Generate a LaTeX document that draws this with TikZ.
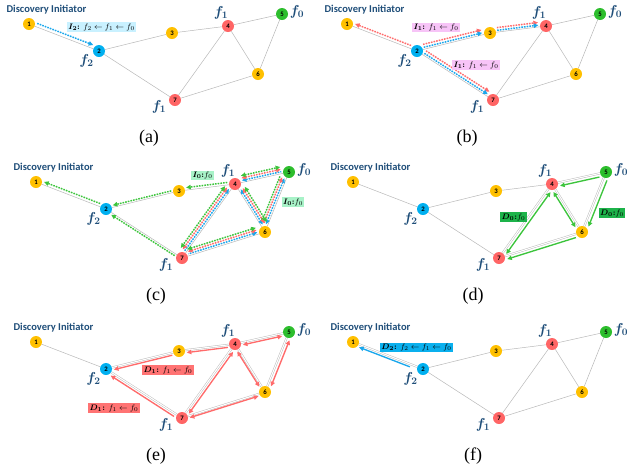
\documentclass[tikz,border=0pt]{standalone}
\usepackage{fontspec}
\usepackage{bm}
\setmainfont{Liberation Serif}
\newfontfamily\carlito{Carlito}
\usetikzlibrary{calc,arrows.meta,backgrounds}
\definecolor{cY}{HTML}{FFC000}
\definecolor{cB}{HTML}{00B0F0}
\definecolor{cR}{HTML}{FF6565}
\definecolor{cG}{HTML}{2DBE2D}
\definecolor{navy}{HTML}{1F4E79}
\definecolor{eg}{HTML}{B8B8B8}
\definecolor{gD}{HTML}{3CC43C}
\definecolor{rD}{HTML}{FF6B6B}
\definecolor{bD}{HTML}{1AA7EC}
\definecolor{boxA}{HTML}{C9F1FF}
\definecolor{boxB}{HTML}{F7C4F7}
\definecolor{boxC}{HTML}{A8F2C8}
\definecolor{boxD}{HTML}{1DB34A}
\definecolor{boxE}{HTML}{FF7373}
\definecolor{boxF}{HTML}{0AB0EE}
\tikzset{
  nd/.style={circle,minimum size=12pt,inner sep=0pt,font=\carlito\bfseries\fontsize{6.8}{6.8}\selectfont,text=black},
  di/.style={font=\carlito\bfseries\fontsize{10.5}{10.5}\selectfont,text=navy,inner sep=0pt},
  fl/.style={font=\fontsize{14}{14}\selectfont,text=navy,inner sep=0pt},
  capt/.style={font=\fontsize{18}{18}\selectfont,inner sep=0pt},
  edge/.style={draw=eg,line width=0.5pt},
  dedge/.style={draw=eg,line width=0.45pt,double=white,double distance=1.1pt},
  >={Triangle[length=4.6pt,width=4.4pt]},
  dotarr/.style={line width=1.5pt,dash pattern=on 1.5pt off 1.2pt,shorten >=7.5pt,shorten <=7.5pt},
  gdot/.style={dotarr,draw=gD,fill=gD},
  rdot/.style={dotarr,draw=rD,fill=rD},
  bdot/.style={dotarr,draw=bD,fill=bD},
  solarr/.style={line width=1.35pt,shorten >=7.5pt,shorten <=7.5pt},
  gsol/.style={solarr,draw=gD},
  rsol/.style={solarr,draw=rD},
  bsol/.style={solarr,draw=bD},
  lbox/.style={inner xsep=1.5pt,inner ysep=1pt,font=\fontsize{8.5}{8.5}\selectfont},
}
\newcommand\offarr[4]{\draw[#1] ($(#2)!#4!90:(#3)$) -- ($(#3)!#4!-90:(#2)$);}
\newcommand\graphbase[1]{%
  \node[nd,fill=cY] (n1) at (0,0) {1};
  \node[nd,fill=cB] (n2) at (70,27) {2};
  \node[nd,fill=cY] (n3) at (143,9) {3};
  \node[nd,fill=cR] (n4) at (199,2) {4};
  \node[nd,fill=cG] (n5) at (253,-10) {5};
  \node[nd,fill=cY] (n6) at (229,50) {6};
  \node[nd,fill=cR] (n7) at (146,76) {7};
  \node[di] (di) at (17.5,-14.5) {Discovery Initiator};
  \node[fl] (f4) at (192,-11.5) {$\bm{f_1}$};
  \node[fl] (f5) at (268,-12.5) {$\bm{f_0}$};
  \node[fl] (f2) at (57.5,37) {$\bm{f_2}$};
  \node[fl] (f7) at (130,82.5) {$\bm{f_1}$};
  \node[capt] (cap) at (120,114) {(#1)};
}
% order: 12,23,34,45,46,56,47,67,27
\newcommand\edges[9]{%
  \draw[#1] (n1) -- (n2);
  \draw[#2] (n2) -- (n3);
  \draw[#3] (n3) -- (n4);
  \draw[#4] (n4) -- (n5);
  \draw[#5] (n4) -- (n6);
  \draw[#6] (n5) -- (n6);
  \draw[#7] (n4) -- (n7);
  \draw[#8] (n6) -- (n7);
  \draw[#9] (n2) -- (n7);
}
\newcommand\cl{\mathpunct{\bm{:}}}
\newcommand\ct{\mathord{\bm{:}}}
\begin{document}
\begin{tikzpicture}[x=1pt,y=-1pt]
\useasboundingbox (0,0) rectangle (627,472);

% (a)
\begin{scope}[shift={(29,24)},name prefix=a-]
  \graphbase{a}
  \node[lbox,fill=boxA] (la) at (72.5,3) {$\bm{I_2}\cl\ f_2 \leftarrow f_1 \leftarrow f_0$};
  \begin{pgfonlayer}{background}
    \edges{edge}{edge}{edge}{edge}{edge}{edge}{edge}{edge}{edge}
    \offarr{bdot,->}{n1}{n2}{3.5pt}
  \end{pgfonlayer}
\end{scope}

% (b)
\begin{scope}[shift={(347,24)},name prefix=b-]
  \graphbase{b}
  \node[lbox,fill=boxB] (lb1) at (89,3.5) {$\bm{I_1}\cl\ f_1 \leftarrow f_0$};
  \node[lbox,fill=boxB] (lb2) at (129,41) {$\bm{I_1}\cl\ f_1 \leftarrow f_0$};
  \begin{pgfonlayer}{background}
    \edges{edge}{edge}{edge}{edge}{edge}{edge}{edge}{edge}{edge}
    \offarr{rdot,->}{n2}{n1}{-3pt}
    \offarr{rdot,->}{n2}{n3}{5pt}
    \offarr{bdot,->}{n2}{n3}{2pt}
    \offarr{rdot,->}{n3}{n4}{4.5pt}
    \offarr{bdot,->}{n3}{n4}{1.8pt}
    \offarr{rdot,->}{n2}{n7}{5pt}
    \offarr{bdot,->}{n2}{n7}{2pt}
  \end{pgfonlayer}
\end{scope}

% (c)
\begin{scope}[shift={(36,182)},name prefix=c-]
  \graphbase{c}
  \node[lbox,fill=boxC] (lc1) at (166.5,-6.5) {$\bm{I_0}\ct f_0$};
  \node[lbox,fill=boxC] (lc2) at (257,20) {$\bm{I_0}\ct f_0$};
  \begin{pgfonlayer}{background}
    \edges{edge}{edge}{edge}{edge}{edge}{edge}{edge}{edge}{edge}
    \offarr{gdot,->}{n2}{n1}{-3pt}
    \offarr{gdot,->}{n3}{n2}{-2pt}
    \offarr{gdot,->}{n7}{n2}{2pt}
    \offarr{gdot,->}{n4}{n3}{-2.5pt}
    \offarr{bdot,<-}{n4}{n5}{2pt}
    \offarr{rdot,<->}{n4}{n5}{4.4pt}
    \offarr{gdot,<->}{n4}{n5}{6.8pt}
    \offarr{bdot,<->}{n5}{n6}{-2pt}
    \offarr{rdot,<-}{n5}{n6}{-4.4pt}
    \offarr{gdot,->}{n5}{n6}{-6.8pt}
    \offarr{bdot,<->}{n4}{n6}{2pt}
    \offarr{rdot,<->}{n4}{n6}{4.4pt}
    \offarr{gdot,<->}{n4}{n6}{6.8pt}
    \offarr{bdot,<-}{n4}{n7}{-2pt}
    \offarr{rdot,<->}{n4}{n7}{-4.4pt}
    \offarr{gdot,<->}{n4}{n7}{-6.8pt}
    \offarr{bdot,<-}{n6}{n7}{-2pt}
    \offarr{rdot,<->}{n6}{n7}{-4.4pt}
    \offarr{gdot,<->}{n6}{n7}{-6.8pt}
  \end{pgfonlayer}
\end{scope}

% (d)
\begin{scope}[shift={(353,182)},name prefix=d-]
  \graphbase{d}
  \node[lbox,fill=boxD] (ld1) at (160.5,35) {$\bm{D_0}\ct f_0$};
  \node[lbox,fill=boxD] (ld2) at (259,31) {$\bm{D_0}\ct f_0$};
  \begin{pgfonlayer}{background}
    \edges{edge}{edge}{edge}{dedge}{dedge}{dedge}{dedge}{dedge}{edge}
    \offarr{gsol,->}{n5}{n4}{3.5pt}
    \offarr{gsol,->}{n5}{n6}{4pt}
    \offarr{gsol,<->}{n4}{n6}{-3pt}
    \offarr{gsol,<->}{n4}{n7}{3.5pt}
    \offarr{gsol,->}{n6}{n7}{3.5pt}
  \end{pgfonlayer}
\end{scope}

% (e)
\begin{scope}[shift={(36,342)},name prefix=e-]
  \graphbase{e}
  \node[lbox,fill=boxE] (le1) at (132,28) {$\bm{D_1}\cl\ f_1 \leftarrow f_0$};
  \node[lbox,fill=boxE] (le2) at (78,66) {$\bm{D_1}\cl\ f_1 \leftarrow f_0$};
  \begin{pgfonlayer}{background}
    \edges{edge}{dedge}{dedge}{dedge}{dedge}{dedge}{dedge}{dedge}{dedge}
    \offarr{rsol,->}{n4}{n3}{2.5pt}
    \offarr{rsol,->}{n3}{n2}{2.5pt}
    \offarr{rsol,->}{n7}{n2}{3pt}
    \offarr{rsol,<->}{n4}{n5}{-2.5pt}
    \offarr{rsol,<->}{n5}{n6}{3.5pt}
    \offarr{rsol,<->}{n4}{n6}{-2pt}
    \offarr{rsol,<->}{n4}{n7}{3pt}
    \offarr{rsol,<->}{n6}{n7}{2pt}
  \end{pgfonlayer}
\end{scope}

% (f)
\begin{scope}[shift={(353,342)},name prefix=f-]
  \graphbase{f}
  \node[lbox,fill=boxF] (lf) at (63.5,5.5) {$\bm{D_2}\cl\ f_2 \leftarrow f_1 \leftarrow f_0$};
  \begin{pgfonlayer}{background}
    \edges{dedge}{edge}{edge}{edge}{edge}{edge}{edge}{edge}{edge}
    \offarr{bsol,->,shorten <=13pt}{n2}{n1}{2.7pt}
  \end{pgfonlayer}
\end{scope}
\end{tikzpicture}
\end{document}
